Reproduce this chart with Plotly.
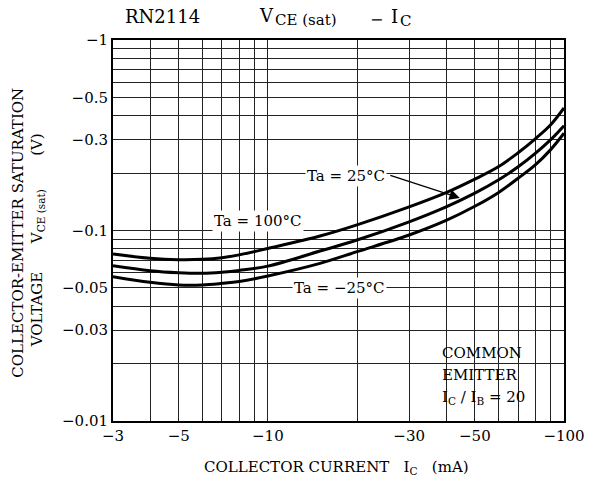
import numpy as np
import plotly.graph_objects as go

# ---- data ----
ic_ma = [-3, -4, -5, -6, -7, -8, -10, -15, -20, -30, -40, -50, -60, -70, -80, -90, -100]
vce_100 = [-0.0753, -0.0715, -0.0703, -0.0706, -0.0720, -0.0745, -0.0805, -0.0935, -0.107, -0.133, -0.158, -0.186, -0.216, -0.256, -0.303, -0.358, -0.440]
vce_25 = [-0.0653, -0.0615, -0.0600, -0.0596, -0.0604, -0.0617, -0.0650, -0.0780, -0.0891, -0.111, -0.133, -0.157, -0.184, -0.216, -0.254, -0.299, -0.355]
vce_m25 = [-0.0572, -0.0535, -0.0518, -0.0518, -0.0528, -0.0540, -0.0577, -0.0672, -0.0774, -0.0947, -0.113, -0.134, -0.158, -0.188, -0.221, -0.265, -0.324]

x_ticks = [3, 5, 10, 30, 50, 100]
x_labels = ["−3", "−5", "−10", "−30", "−50", "−100"]
x_grid = [3, 4, 5, 6, 7, 8, 9, 10, 20, 30, 40, 50, 60, 70, 80, 90, 100]
y_ticks = [0.01, 0.03, 0.05, 0.1, 0.3, 0.5, 1.0]
y_labels = ["−0.01", "−0.03", "−0.05", "−0.1", "−0.3", "−0.5", "−1"]
y_grid = [0.01, 0.02, 0.03, 0.04, 0.05, 0.06, 0.07, 0.08, 0.09,
          0.1, 0.2, 0.3, 0.4, 0.5, 0.6, 0.7, 0.8, 0.9, 1.0]

FONT = "DejaVu Serif"
W, H = 597, 489
L, R, T, B = 113, 25, 40, 68
PW, PH = W - L - R, H - T - B


def px(xp):
    return (xp - L) / PW


def py(yp):
    return (H - B - yp) / PH


fig = go.Figure()
xs = np.abs(np.array(ic_ma))
for vals in (vce_100, vce_25, vce_m25):
    fig.add_trace(go.Scatter(x=xs, y=np.abs(np.array(vals)), mode="lines",
                             line=dict(color="black", width=3, shape="spline", smoothing=1.0),
                             showlegend=False, hoverinfo="skip"))

fig.update_layout(
    width=W, height=H, margin=dict(l=L, r=R, t=T, b=B),
    paper_bgcolor="white", plot_bgcolor="white",
    font=dict(family=FONT, color="black", size=15),
    showlegend=False,
)
common = dict(showgrid=True, gridcolor="#222", gridwidth=1, showline=True,
              linecolor="black", linewidth=2, mirror=True, ticks="",
              zeroline=False, tickfont=dict(size=15, family=FONT))
fig.update_xaxes(type="log", range=[np.log10(3), 2], tickmode="array",
                 tickvals=x_ticks, ticktext=x_labels,
                 minor=dict(tickmode="array", tickvals=x_grid, showgrid=True,
                            gridcolor="#222", gridwidth=1, ticks=""),
                 **common)
fig.update_yaxes(type="log", range=[-2, 0], tickmode="array",
                 tickvals=y_ticks, ticktext=y_labels,
                 minor=dict(tickmode="array", tickvals=y_grid, showgrid=True,
                            gridcolor="#222", gridwidth=1, ticks=""),
                 **common)

# white box behind the condition text
fig.add_shape(type="rect", xref="paper", yref="paper",
              x0=px(416.5), x1=1.0, y0=0.0, y1=py(331.5),
              fillcolor="white", line=dict(width=0), layer="between")

ann = []


def text(t, x, y, size=15, xanchor="center", bg=None, angle=0):
    d = dict(text=t, xref="paper", yref="paper", x=px(x), y=py(y), showarrow=False,
             xanchor=xanchor, yanchor="middle", font=dict(size=size, family=FONT),
             textangle=angle)
    if bg:
        d.update(bgcolor=bg, borderpad=1)
    ann.append(d)


# title
text("RN2114", 163, 17, size=18)
text("V", 260, 15, size=18, xanchor="left")
text("CE (sat)", 276, 20, size=15, xanchor="left")
text("−", 381, 19, size=16)
text("I", 394, 17, size=18, xanchor="left")
text("C", 403, 21, size=15, xanchor="left")

# axis titles
text("COLLECTOR CURRENT   I<sub>C</sub>   (mA)", 340, 467, size=15)
text("COLLECTOR-EMITTER SATURATION", 16, 233, size=15, angle=-90)
text("VOLTAGE      V<sub>CE (sat)</sub>       (V)", 36, 240, size=15, angle=-90)

# curve labels
text("Ta = 25°C", 350, 176, size=15, bg="white")
text("Ta = 100°C", 261, 221, size=15, bg="white")
text("Ta = −25°C", 344, 288, size=15, bg="white")

# condition text
text("COMMON", 446, 353, size=15, xanchor="left")
text("EMITTER", 446, 375, size=15, xanchor="left")
text("I<sub>C</sub> / I<sub>B</sub> = 20", 446, 397, size=15, xanchor="left")

# arrow pointing to the 25°C curve
ann.append(dict(text="", xref="paper", yref="paper", x=px(466), y=py(198),
                ax=395 - 466, ay=175 - 198, showarrow=True, arrowhead=2,
                arrowsize=1.6, arrowwidth=1.3, arrowcolor="black", standoff=0))

fig.update_layout(annotations=ann)
fig.write_html("out.html")
